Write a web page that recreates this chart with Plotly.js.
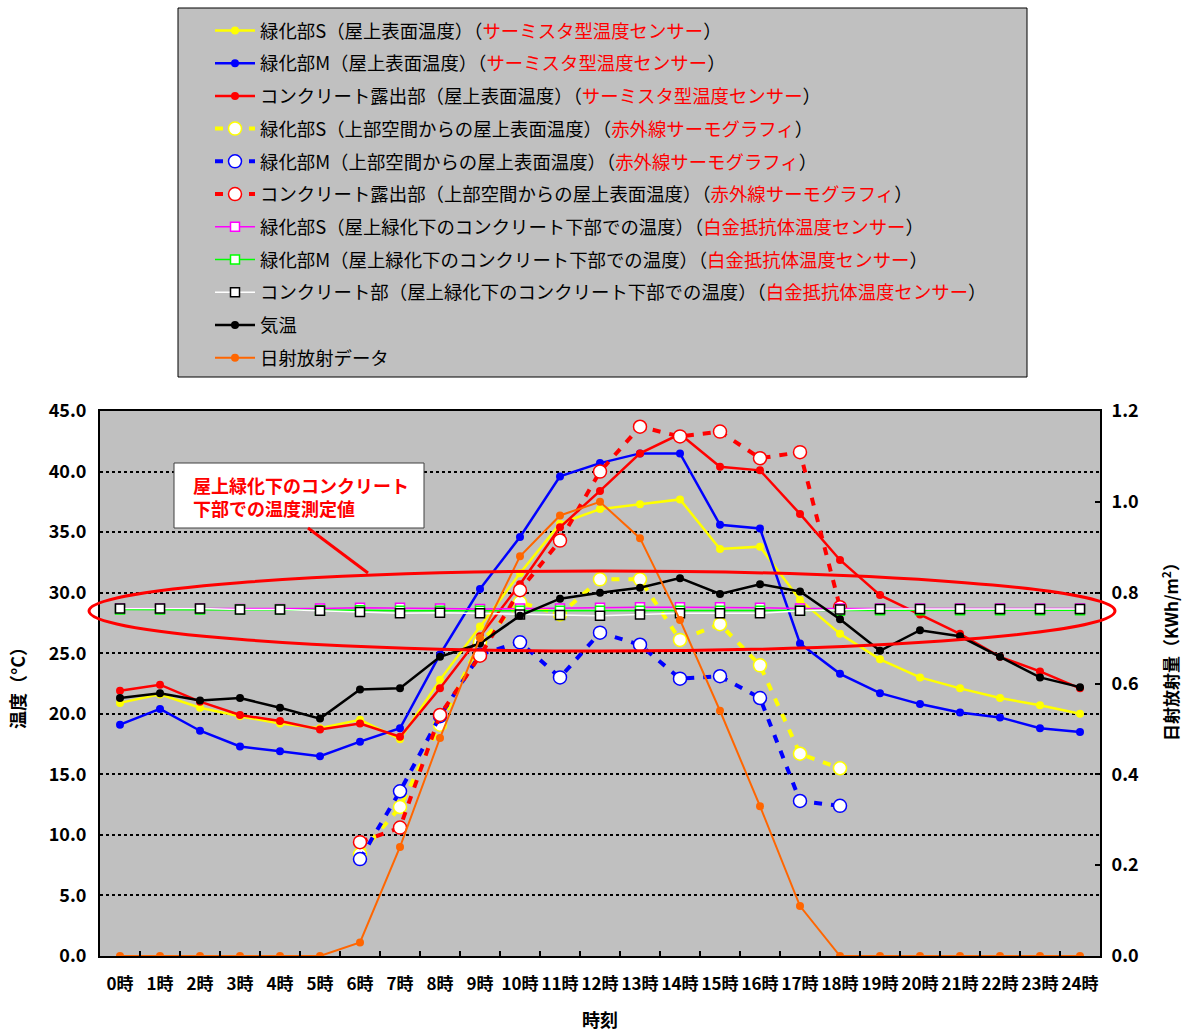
<!DOCTYPE html>
<html><head><meta charset="utf-8">
<script src="https://cdn.plot.ly/plotly-3.0.1.min.js"></script>
<style>html,body{margin:0;padding:0;background:#fff}</style>
</head><body><div id="chart" style="width:1184px;height:1032px"></div>
<script>
// ---- data ----
const hours = ["0時","1時","2時","3時","4時","5時","6時","7時","8時","9時","10時","11時","12時","13時","14時","15時","16時","17時","18時","19時","20時","21時","22時","23時","24時"];

const greenS_surface = [20.9, 21.6, 20.5, 19.8, 19.2, 18.8, 19.5, 17.9, 22.8, 27.2, 31.6, 35.7, 36.9, 37.3, 37.7, 33.6, 33.8, 29.4, 26.6, 24.5, 23.0, 22.1, 21.3, 20.7, 20.0];
const greenM_surface = [19.1, 20.4, 18.6, 17.3, 16.9, 16.5, 17.7, 18.8, 24.9, 30.3, 34.6, 39.6, 40.7, 41.5, 41.5, 35.6, 35.3, 25.8, 23.3, 21.7, 20.8, 20.1, 19.7, 18.8, 18.5];
const concrete_surface = [21.9, 22.4, 21.0, 19.9, 19.4, 18.7, 19.2, 18.1, 22.1, 26.4, 30.7, 35.4, 38.4, 41.5, 43.1, 40.4, 40.1, 36.5, 32.7, 29.8, 28.2, 26.6, 24.7, 23.5, 22.1];

const greenS_ir = [null, null, null, null, null, null, 8.4, 12.3, 19.1, 25.9, 29.2, 28.2, 31.1, 31.1, 26.1, 27.4, 24.0, 16.7, 15.5, null, null, null, null, null, null];
const greenM_ir = [null, null, null, null, null, null, 8.0, 13.6, 19.8, 24.9, 25.9, 23.0, 26.7, 25.7, 22.9, 23.1, 21.3, 12.8, 12.4, null, null, null, null, null, null];
const concrete_ir = [null, null, null, null, null, null, 9.4, 10.6, 19.9, 24.8, 30.2, 34.3, 40.0, 43.7, 42.9, 43.3, 41.1, 41.6, 28.8, null, null, null, null, null, null];

const greenS_under = [28.7, 28.7, 28.7, 28.65, 28.65, 28.7, 28.75, 28.75, 28.7, 28.65, 28.7, 28.7, 28.75, 28.8, 28.8, 28.8, 28.75, 28.7, 28.7, 28.7, 28.7, 28.7, 28.7, 28.7, 28.7];
const greenM_under = [28.6, 28.6, 28.6, 28.6, 28.6, 28.55, 28.55, 28.5, 28.5, 28.5, 28.5, 28.5, 28.5, 28.5, 28.5, 28.5, 28.5, 28.5, 28.5, 28.55, 28.55, 28.55, 28.55, 28.55, 28.55];
const concrete_under = [28.7, 28.7, 28.7, 28.6, 28.6, 28.5, 28.4, 28.3, 28.35, 28.3, 28.2, 28.15, 28.1, 28.2, 28.3, 28.3, 28.3, 28.5, 28.6, 28.65, 28.65, 28.65, 28.65, 28.65, 28.65];

const airTemp = [21.3, 21.7, 21.1, 21.3, 20.5, 19.6, 22.0, 22.1, 24.7, 25.8, 28.1, 29.5, 30.0, 30.4, 31.2, 29.9, 30.7, 30.1, 27.8, 25.2, 26.9, 26.4, 24.7, 23.0, 22.2];
const solar = [0, 0, 0, 0, 0, 0, 0.03, 0.24, 0.48, 0.70, 0.88, 0.97, 1.00, 0.92, 0.74, 0.54, 0.33, 0.11, 0, 0, 0, 0, 0, 0, 0];

const legendNames = [
  '緑化部S（屋上表面温度）（<span style="color:#FF0000">サーミスタ型温度センサー</span>）',
  '緑化部M（屋上表面温度）（<span style="color:#FF0000">サーミスタ型温度センサー</span>）',
  'コンクリート露出部（屋上表面温度）（<span style="color:#FF0000">サーミスタ型温度センサー</span>）',
  '緑化部S（上部空間からの屋上表面温度）（<span style="color:#FF0000">赤外線サーモグラフィ</span>）',
  '緑化部M（上部空間からの屋上表面温度）（<span style="color:#FF0000">赤外線サーモグラフィ</span>）',
  'コンクリート露出部（上部空間からの屋上表面温度）（<span style="color:#FF0000">赤外線サーモグラフィ</span>）',
  '緑化部S（屋上緑化下のコンクリート下部での温度）（<span style="color:#FF0000">白金抵抗体温度センサー</span>）',
  '緑化部M（屋上緑化下のコンクリート下部での温度）（<span style="color:#FF0000">白金抵抗体温度センサー</span>）',
  'コンクリート部（屋上緑化下のコンクリート下部での温度）（<span style="color:#FF0000">白金抵抗体温度センサー</span>）',
  '気温',
  '日射放射データ'
];

const FONT = '"Noto Sans CJK JP", "Noto Sans", sans-serif';

function solidTrace(i, y, color) {
  return {x: hours, y: y, name: legendNames[i], legendgroup: 'g' + i, type: 'scatter', mode: 'lines+markers',
    line: {color: color, width: 2.5}, marker: {color: color, size: 8, symbol: 'circle'}};
}
function irTrace(i, y, color) {
  return {x: hours, y: y, name: legendNames[i], legendgroup: 'g' + i, type: 'scatter', mode: 'lines+markers',
    connectgaps: false,
    line: {color: color, width: 4, dash: '8px,9px'},
    marker: {color: '#FFFFFF', size: 13, symbol: 'circle', line: {color: color, width: 1.5}}};
}
function underTrace(i, y, color, edge) {
  return {x: hours, y: y, name: legendNames[i], legendgroup: 'g' + i, type: 'scatter', mode: 'lines+markers',
    line: {color: color, width: 1.5},
    marker: {color: '#FFFFFF', size: 9, symbol: 'square', line: {color: edge, width: 1.5}}};
}

const traces = [
  solidTrace(0, greenS_surface, '#FFFF00'),
  solidTrace(1, greenM_surface, '#0000FF'),
  solidTrace(2, concrete_surface, '#FF0000'),
  irTrace(3, greenS_ir, '#FFFF00'),
  irTrace(4, greenM_ir, '#0000FF'),
  irTrace(5, concrete_ir, '#FF0000'),
  underTrace(6, greenS_under, '#FF00FF', '#FF00FF'),
  underTrace(7, greenM_under, '#00FF00', '#00FF00'),
  underTrace(8, concrete_under, '#FFFFFF', '#000000'),
  solidTrace(9, airTemp, '#000000'),
  {x: hours, y: solar, name: legendNames[10], legendgroup: 'g10', yaxis: 'y2', type: 'scatter', mode: 'lines+markers',
    line: {color: '#FF6600', width: 2}, marker: {color: '#FF6600', size: 8}}
];

// pixel -> paper helpers for layout decorations
const PL = 100, PR = 1100, PT = 411, PB = 956;
const px = v => (v - PL) / (PR - PL);
const py = v => (PB - v) / (PB - PT);

const layout = {
  width: 1184, height: 1032,
  margin: {l: PL, r: 1184 - PR, t: PT, b: 1032 - PB, autoexpand: false},
  paper_bgcolor: '#FFFFFF',
  plot_bgcolor: '#C0C0C0',
  font: {family: FONT, color: '#000000'},
  showlegend: true,
  legend: {
    x: px(210), xanchor: 'left', y: py(12), yanchor: 'top',
    bgcolor: 'rgba(0,0,0,0)', borderwidth: 0,
    font: {family: FONT, size: 18.4, color: '#000000'},
    tracegroupgap: 5.8, traceorder: 'grouped', itemwidth: 40
  },
  xaxis: {
    type: 'category', categoryorder: 'array', categoryarray: hours,
    range: [-0.5, 24.5], autorange: false,
    tickson: 'boundaries', ticks: 'inside', ticklen: 5, tickwidth: 1.5, tickcolor: '#000000',
    tickangle: 0, ticklabelstandoff: 12,
    tickfont: {family: FONT, size: 17, weight: 'bold', color: '#000000'},
    showline: true, linecolor: '#000000', linewidth: 2, mirror: true,
    showgrid: false, zeroline: false, automargin: false,
    title: {text: '時刻', font: {family: FONT, size: 18, weight: 'bold', color: '#000000'}, standoff: 22}
  },
  yaxis: {
    range: [0, 45], tick0: 0, dtick: 5, tickformat: '.1f',
    ticks: '', ticklabelstandoff: 8,
    tickfont: {family: FONT, size: 18, weight: 'bold', color: '#000000'},
    showgrid: true, gridcolor: '#000000', gridwidth: 2, griddash: 'dot',
    showline: true, linecolor: '#000000', linewidth: 2,
    zeroline: false, automargin: false,
    title: {text: '温度（°C）', font: {family: FONT, size: 18, weight: 'bold', color: '#000000'}, standoff: 18}
  },
  yaxis2: {
    overlaying: 'y', side: 'right', range: [0, 1.2], tick0: 0, dtick: 0.2, tickformat: '.1f',
    ticks: 'inside', ticklen: 5, tickwidth: 1.5, tickcolor: '#000000', ticklabelstandoff: 6,
    tickfont: {family: FONT, size: 18, weight: 'bold', color: '#000000'},
    showgrid: false, zeroline: false,
    showline: true, linecolor: '#000000', linewidth: 2, automargin: false
  },
  shapes: [
    // legend frame
    {type: 'rect', xref: 'paper', yref: 'paper', x0: px(178), x1: px(1027), y0: py(377), y1: py(8),
      fillcolor: '#C0C0C0', line: {color: '#000000', width: 1}},
    // callout box
    {type: 'rect', xref: 'paper', yref: 'paper', x0: px(174), x1: px(424), y0: py(528), y1: py(463),
      fillcolor: '#FFFFFF', line: {color: '#404040', width: 1}},
    // connector
    {type: 'line', xref: 'paper', yref: 'paper', x0: px(308), y0: py(528), x1: px(368), y1: py(573),
      line: {color: '#FF0000', width: 3}},
    // ellipse
    {type: 'circle', xref: 'paper', yref: 'paper', x0: px(89), x1: px(1115), y0: py(651), y1: py(571),
      line: {color: '#FF0000', width: 3}}
  ],
  annotations: [
    {xref: 'paper', yref: 'paper', x: px(191), y: py(496), xanchor: 'left', yanchor: 'middle',
      text: '屋上緑化下のコンクリート<br>下部での温度測定値', showarrow: false, align: 'left',
      font: {family: FONT, size: 18, weight: 'bold', color: '#FF0000'}},
    // right axis title
    {xref: 'paper', yref: 'paper', x: px(1170), y: py(648), xanchor: 'center', yanchor: 'middle',
      text: '日射放射量（KWh/m<sup>2</sup>）', textangle: -90, showarrow: false,
      font: {family: FONT, size: 17, weight: 'bold', color: '#000000'}}
  ]
};

Plotly.newPlot('chart', traces, layout, {displayModeBar: false, responsive: false});
</script></body></html>
